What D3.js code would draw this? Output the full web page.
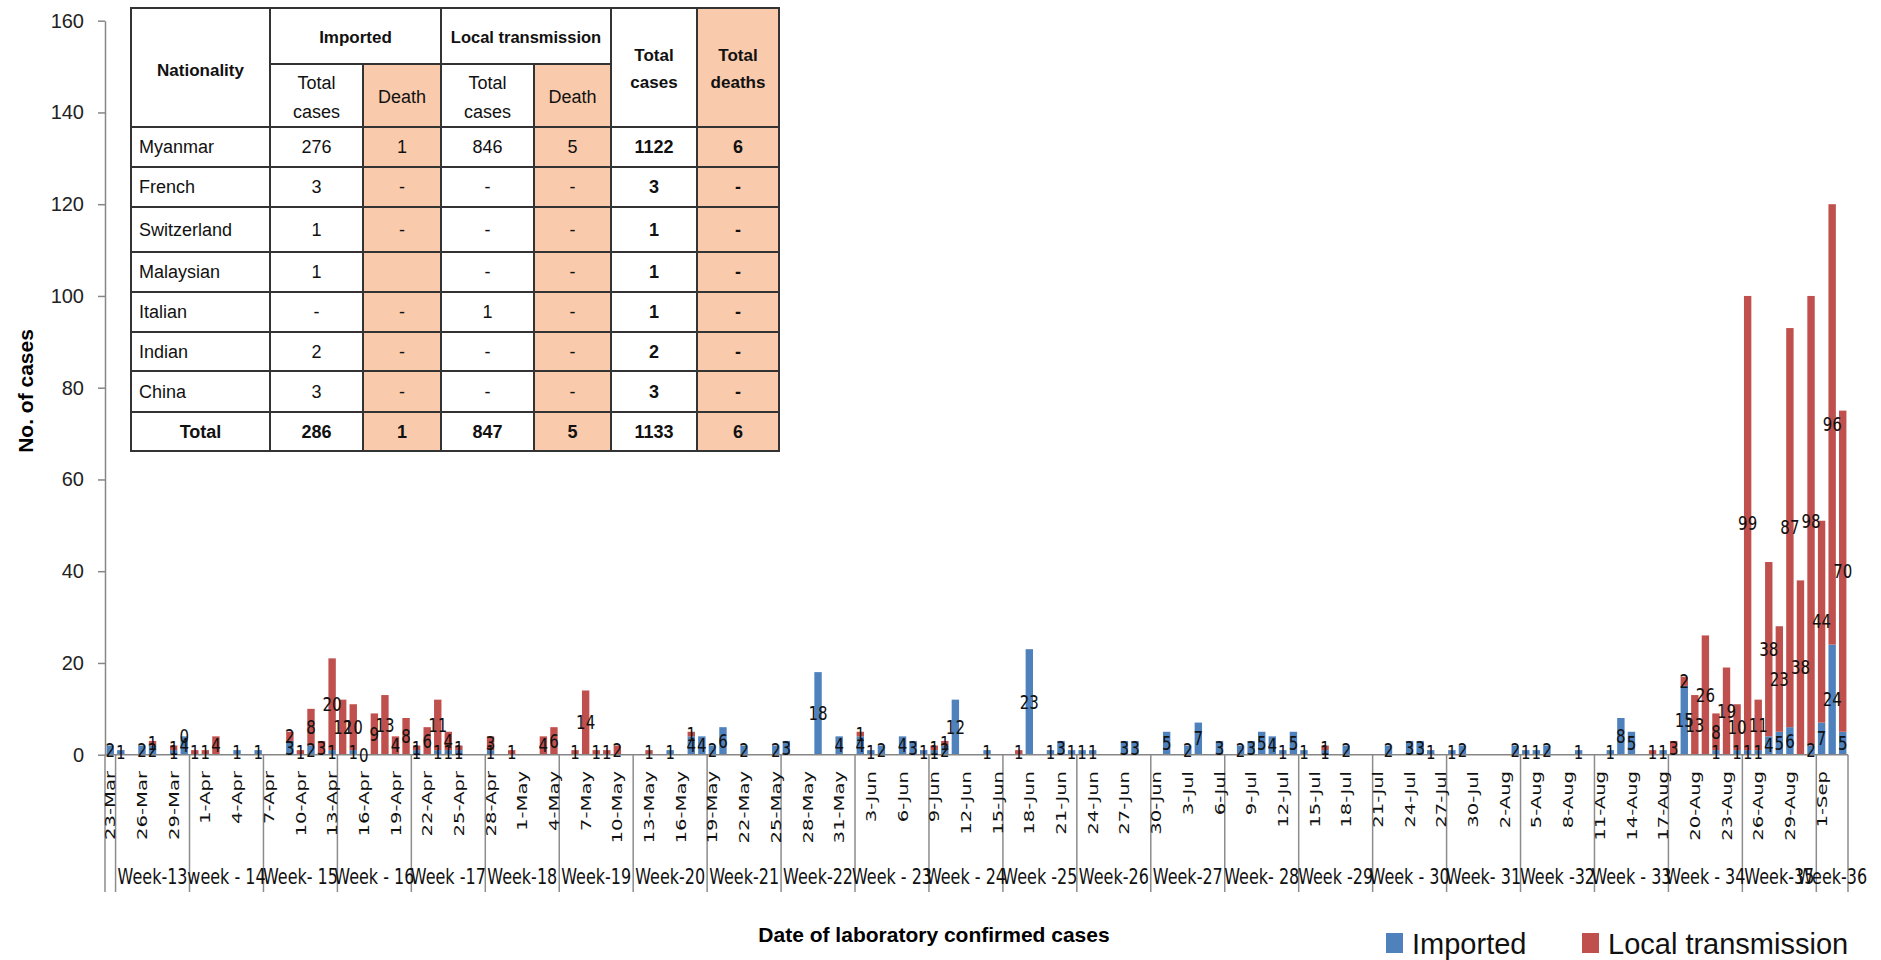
<!DOCTYPE html>
<html><head><meta charset="utf-8">
<script src="https://cdn.jsdelivr.net/npm/d3@7"></script>
<style>body{margin:0;background:#fff;overflow:hidden} svg{display:block}</style>
</head><body>
<svg id="c" width="1881" height="960"></svg>
<script>
// ---------------- DATA ----------------
const dayFmt = d3.timeFormat("%-d-%b");
const days = d3.timeDays(new Date(2020, 2, 23), new Date(2020, 8, 4)).map(dayFmt); // 23-Mar .. 3-Sep

// Imported cases per day (index 0 = 23-Mar), grouped by week
const imported = [
  2,
  1,0,2,2,0,1,4,      // Week-13
  0,0,0,0,1,0,1,      // week-14
  0,0,3,0,2,0,1,      // Week-15
  0,1,0,0,0,0,0,      // Week-16
  1,0,1,1,1,0,0,      // Week-17
  1,0,0,0,0,0,0,      // Week-18
  0,0,0,0,0,0,0,      // Week-19
  0,0,0,1,0,4,4,      // Week-20
  2,6,0,2,0,0,2,      // Week-21
  3,0,0,18,0,4,0,     // Week-22
  4,1,2,0,4,3,1,      // Week-23
  1,2,12,0,0,1,0,     // Week-24
  0,0,23,0,1,3,1,     // Week-25
  1,1,0,0,3,3,0,      // Week-26
  0,5,0,2,7,0,3,      // Week-27
  0,2,3,5,4,1,5,      // Week-28
  1,0,1,0,2,0,0,      // Week-29
  0,2,0,3,3,1,0,      // Week-30
  1,2,0,0,0,0,2,      // Week-31
  1,1,2,0,0,1,0,      // Week-32
  0,1,8,5,0,0,1,      // Week-33
  0,15,0,0,1,0,1,     // Week-34
  1,1,4,5,6,0,2,      // Week-35
  7,24,5              // Week-36
];
// Local transmission cases per day
const local = [
  0,
  0,0,0,1,0,1,0,
  1,1,4,0,0,0,0,
  0,0,2,1,8,3,20,
  12,10,0,9,13,4,8,
  1,6,11,4,1,0,0,
  3,0,1,0,0,4,6,
  0,1,14,1,1,2,0,
  0,1,0,0,0,1,0,
  0,0,0,0,0,0,0,
  0,0,0,0,0,0,0,
  1,0,0,0,0,0,0,
  1,1,0,0,0,0,0,
  0,1,0,0,0,0,0,
  0,0,0,0,0,0,0,
  0,0,0,0,0,0,0,
  0,0,0,0,0,0,0,
  0,0,1,0,0,0,0,
  0,0,0,0,0,0,0,
  0,0,0,0,0,0,0,
  0,0,0,0,0,0,0,
  0,0,0,0,0,1,0,
  3,2,13,26,8,19,10,
  99,11,38,23,87,38,98,
  44,96,70
];
// days on which a "0" data label is shown
const zeroLabelDays = ["30-Mar", "16-Apr"];

const weekLabels = ["Week-13","week - 14","Week- 15","Week - 16","Week -17","Week-18","Week-19","Week-20",
  "Week-21","Week-22","Week - 23","Week - 24","Week -25","Week-26","Week-27","Week- 28","Week -29",
  "Week - 30","Week- 31","Week -32","Week - 33","Week - 34","Week-35","Week-36"];
const weekStartDays = ["24-Mar","31-Mar","7-Apr","14-Apr","21-Apr","28-Apr","5-May","12-May","19-May","26-May",
  "2-Jun","9-Jun","16-Jun","23-Jun","30-Jun","7-Jul","14-Jul","21-Jul","28-Jul","4-Aug","11-Aug","18-Aug","25-Aug","1-Sep"];

const yTicks = [0,20,40,60,80,100,120,140,160];

// Table
const tblNationality = ["Myanmar","French","Switzerland","Malaysian","Italian","Indian","China"];
const tblImpCases  = ["276","3","1","1","-","2","3"];
const tblImpDeath  = ["1","-","-","","-","-","-"];
const tblLocCases  = ["846","-","-","-","1","-","-"];
const tblLocDeath  = ["5","-","-","-","-","-","-"];
const tblTotCases  = ["1122","3","1","1","1","2","3"];
const tblTotDeaths = ["6","-","-","-","-","-","-"];
const tblTotalRow  = ["Total","286","1","847","5","1133","6"];

const seriesNames = ["Imported","Local transmission"];
const colors = {imp:"#4F81BD", loc:"#C0504D"};

// ---------------- CHART ----------------
const svg = d3.select("#c");
const X0 = 105, X1 = 1848, Y0 = 754.7, Ytop = 20.7;
const x = d3.scaleBand().domain(days).range([X0, X1]).paddingInner(0.3).paddingOuter(0.15);
const y = d3.scaleLinear().domain([0,160]).range([Y0, Ytop]);
const step = x.step();
const cx = d => x(d) + x.bandwidth()/2;

// y axis
const yAxis = d3.axisLeft(y).tickValues(yTicks).tickSize(7).tickSizeOuter(0).tickPadding(14);
const ga = svg.append("g").attr("transform", `translate(${X0},0)`).call(yAxis);
ga.select(".domain").attr("stroke","#868686").attr("stroke-width",1.5);
ga.selectAll(".tick line").attr("stroke","#868686").attr("stroke-width",1.5);
ga.selectAll(".tick text").attr("font-family","'Liberation Sans', Arial, sans-serif").attr("font-size",20).attr("fill","#222");

// bars
const data = days.map((d,i) => ({d, imp: imported[i], loc: local[i]}));
svg.append("g").selectAll("rect").data(data.filter(o=>o.imp>0)).join("rect")
  .attr("x", o=>x(o.d)).attr("width", x.bandwidth())
  .attr("y", o=>y(o.imp)).attr("height", o=>Y0 - y(o.imp)).attr("fill", colors.imp);
svg.append("g").selectAll("rect").data(data.filter(o=>o.loc>0)).join("rect")
  .attr("x", o=>x(o.d)).attr("width", x.bandwidth())
  .attr("y", o=>y(o.imp+o.loc)).attr("height", o=>y(o.imp) - y(o.imp+o.loc)).attr("fill", colors.loc);

// x baseline
svg.append("line").attr("x1",X0).attr("x2",X1).attr("y1",Y0).attr("y2",Y0).attr("stroke","#868686").attr("stroke-width",1.5);

// group separators
const sepBottom = 892;
const sepX = [X0].concat(weekStartDays.map(d => x(d) - (step - x.bandwidth())/2)).concat([X1]);
svg.append("g").selectAll("line").data(sepX).join("line")
  .attr("x1",d=>d).attr("x2",d=>d).attr("y1",Y0).attr("y2",sepBottom)
  .attr("stroke","#8c8c8c").attr("stroke-width",1.5);

// date labels
const dateLbl = days.filter((d,i)=> i%3===0);
svg.append("g").selectAll("text").data(dateLbl).join("text")
  .attr("transform", d=>`translate(${cx(d)},771) rotate(-90) scale(1.35,1)`)
  .attr("text-anchor","end").attr("dy","0.35em")
  .attr("font-family","'DejaVu Sans', Verdana, sans-serif").attr("font-size",14.5).attr("fill","#111")
  .text(d=>d);

// week labels
svg.append("g").selectAll("text").data(weekLabels).join("text")
  .attr("transform", (w,k)=>`translate(${(sepX[k+1]+sepX[k+2])/2},877) scale(1,1.3)`)
  .attr("text-anchor","middle").attr("dy","0.35em")
  .attr("font-family","'DejaVu Sans', Verdana, sans-serif").attr("font-size",16).attr("fill","#111")
  .text(w=>w);

// data labels
const lbls = [];
data.forEach(o=>{
  if (o.imp>0) lbls.push({d:o.d, v:o.imp, yc:y(o.imp/2)});
  if (o.loc>0) lbls.push({d:o.d, v:o.loc, yc:y(o.imp + o.loc/2)});
  if (zeroLabelDays.includes(o.d)) lbls.push({d:o.d, v:0, yc:y(o.imp)});
});
svg.append("g").selectAll("text").data(lbls).join("text")
  .attr("transform", l=>`translate(${cx(l.d)},${l.yc}) scale(1,1.3)`)
  .attr("text-anchor","middle").attr("dy","0.35em")
  .attr("font-family","'DejaVu Sans', Verdana, sans-serif").attr("font-size",15).attr("fill","#111")
  .text(l=>l.v);

// axis titles
svg.append("text").attr("transform","translate(26,391) rotate(-90)").attr("text-anchor","middle").attr("dy","0.35em")
  .attr("font-family","'Liberation Sans', Arial, sans-serif").attr("font-weight","bold").attr("font-size",21).attr("fill","#000")
  .text("No. of cases");
svg.append("text").attr("x",934).attr("y",935).attr("text-anchor","middle").attr("dy","0.35em")
  .attr("font-family","'Liberation Sans', Arial, sans-serif").attr("font-weight","bold").attr("font-size",21).attr("fill","#000")
  .text("Date of laboratory confirmed cases");

// legend
const legX = [1386, 1582];
const legG = svg.append("g").selectAll("g").data(seriesNames).join("g")
  .attr("transform",(s,i)=>`translate(${legX[i]},0)`);
legG.append("rect").attr("x",0).attr("y",933).attr("width",17).attr("height",20).attr("fill",(s,i)=> i===0?colors.imp:colors.loc);
legG.append("text").attr("x",26).attr("y",954).attr("font-family","'Liberation Sans', Arial, sans-serif").attr("font-size",29).attr("fill","#111").text(s=>s);

// ---------------- TABLE ----------------
const peach = "#F9CBAC", border = "#333";
const cols = [131, 270, 363, 441, 534, 611, 697, 779];
const rowY = [127,167,207,252,292,332,371,412,451];
const T = svg.append("g");
const FF = "'Liberation Sans', Arial, sans-serif";
function cell(x0,y0,x1,y1,fill){ T.append("rect").attr("x",x0).attr("y",y0).attr("width",x1-x0).attr("height",y1-y0).attr("fill",fill||"#fff").attr("stroke",border).attr("stroke-width",2); }
function txt(xx,yy,s,bold,anchor,size){ T.append("text").attr("x",xx).attr("y",yy).attr("dy","0.35em").attr("text-anchor",anchor||"middle")
  .attr("font-family",FF).attr("font-weight",bold?"bold":"normal").attr("font-size",size||18).attr("fill","#111").text(s); }
// header
cell(cols[0],8,cols[1],127); txt((cols[0]+cols[1])/2,70,"Nationality",true,"middle",17);
cell(cols[1],8,cols[3],64); txt((cols[1]+cols[3])/2,37,"Imported",true,"middle",17);
cell(cols[3],8,cols[5],64); txt((cols[3]+cols[5])/2,37,"Local transmission",true,"middle",16.5);
cell(cols[5],8,cols[6],127); txt((cols[5]+cols[6])/2,55,"Total",true,"middle",17); txt((cols[5]+cols[6])/2,82,"cases",true,"middle",17);
cell(cols[6],8,cols[7],127,peach); txt((cols[6]+cols[7])/2,55,"Total",true,"middle",17); txt((cols[6]+cols[7])/2,82,"deaths",true,"middle",17);
[1,3].forEach(c=>{
  cell(cols[c],64,cols[c+1],127); txt((cols[c]+cols[c+1])/2,83,"Total"); txt((cols[c]+cols[c+1])/2,112,"cases");
  cell(cols[c+1],64,cols[c+2],127,peach); txt((cols[c+1]+cols[c+2])/2,97,"Death");
});
// body
const bodyCols = [tblNationality, tblImpCases, tblImpDeath, tblLocCases, tblLocDeath, tblTotCases, tblTotDeaths];
const peachCol = [false,false,true,false,true,false,true];
for (let r=0; r<8; r++){
  const y0=rowY[r], y1=rowY[r+1], ym=(y0+y1)/2;
  for (let c=0;c<7;c++){
    cell(cols[c],y0,cols[c+1],y1, peachCol[c]?peach:"#fff");
    const v = r<7 ? bodyCols[c][r] : tblTotalRow[c];
    const bold = r===7 || c>=5;
    if (c===0 && r<7) txt(cols[0]+8, ym, v, false, "start");
    else txt((cols[c]+cols[c+1])/2, ym, v, bold);
  }
}
</script>
</body></html>
